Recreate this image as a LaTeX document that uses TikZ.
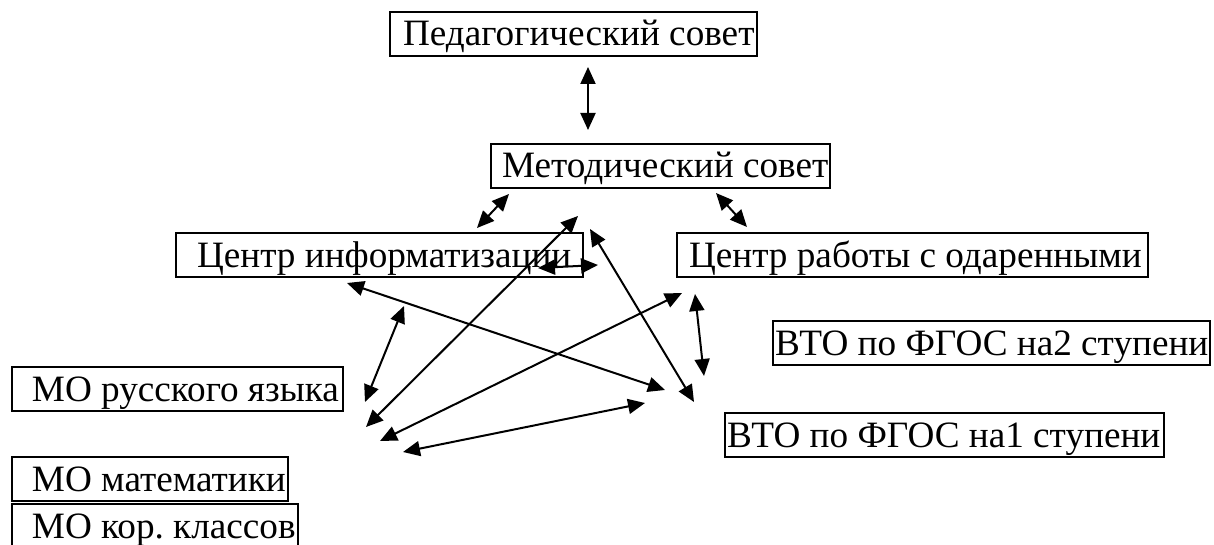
\documentclass[tikz,border=0pt]{standalone}
\usepackage{fontspec}
\setmainfont{Liberation Serif}
\usetikzlibrary{arrows.meta}
\frenchspacing

\tikzset{
	org/.style={draw,line width=1pt,anchor=north west,inner xsep=1pt,inner ysep=0pt,
		outer sep=0pt,text height=17pt,text depth=5pt,font=\fontsize{18.6}{22}\selectfont},
	link/.style={<->,line width=1pt}
}

\begin{document}
\begin{tikzpicture}[x=0.5pt,y=-0.5pt,>={Triangle[length=8.5pt,width=7.5pt]}]

\useasboundingbox (0,0) rectangle (1214,545);

% boxes
\node[org] (ped) at (390,12) {\hspace*{5.5pt}Педагогический совет};
\node[org] (met) at (491,144) {\hspace*{4.5pt}Методический совет};
\node[org] (cinf) at (176,233) {\hspace*{9.5pt}Центр информатизации\hspace*{5pt}};
\node[org] (codar) at (677,233) {\hspace*{5pt}Центр работы с одаренными\hspace*{2pt}};
\node[org] (vto2) at (773,321) {ВТО по ФГОС на2 ступени};
\node[org] (vto1) at (725,413) {ВТО по ФГОС на1 ступени\hspace*{1pt}};
\node[org] (mrus) at (12,367) {\hspace*{9pt}МО русского языка\hspace*{1pt}};
\node[org] (mmat) at (12,457) {\hspace*{9pt}МО математики};
\node[org] (mkor) at (12,504) {\hspace*{9pt}МО кор. классов};

% arrow ends
\coordinate (a1) at (588,67);   \coordinate (b1) at (588,130);
\coordinate (a2) at (509,194);  \coordinate (b2) at (477,228);
\coordinate (a3) at (716,193);  \coordinate (b3) at (747,227);
\coordinate (a4) at (578,216);  \coordinate (b4) at (366,427);
\coordinate (a5) at (590,229);  \coordinate (b5) at (694,402);
\coordinate (a6) at (538,268);  \coordinate (b6) at (598,265);
\coordinate (a7) at (347,283);  \coordinate (b7) at (665,390);
\coordinate (a8) at (404,306);  \coordinate (b8) at (365,402);
\coordinate (a9) at (682,293);  \coordinate (b9) at (380,441);
\coordinate (a10) at (695,294); \coordinate (b10) at (704,376);
\coordinate (a11) at (403,452); \coordinate (b11) at (645,403);

\foreach \i in {1,...,11}
	\draw[link] (a\i)--(b\i);

\end{tikzpicture}
\end{document}
